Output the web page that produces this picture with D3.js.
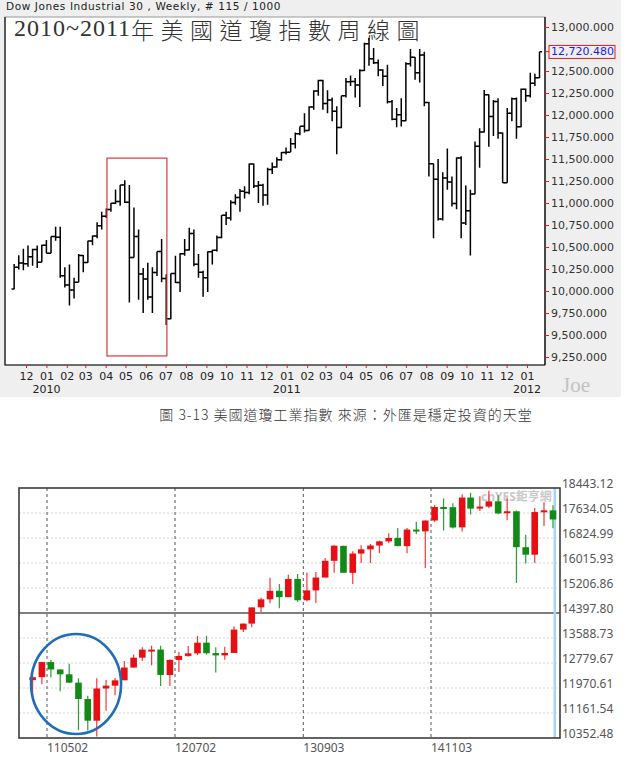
<!DOCTYPE html>
<html>
<head>
<meta charset="utf-8">
<script src="https://cdn.jsdelivr.net/npm/d3@7"></script>
<style>
  body { margin: 0; background: #fff; }
  svg { display: block; }
</style>
</head>
<body>
<svg width="628" height="759"></svg>
<script>

  // DATA - top chart: Dow Jones weekly bars, week ending 2009-11-13 .. 2012-01-20

  var firstWeek = new Date(2009, 10, 13),
    lastWeek = new Date(2012, 0, 20);

  var weekOpen = [
    10023, 10270, 10318, 10309, 10388, 10471, 10328, 10520,
    10430, 10618, 10610, 10172, 10067, 10012, 10099, 10402, 10325, 10567, 10625, 10742, 10850,
    10927, 10997, 11018, 11204, 11009, 10380, 10620, 10193, 10137, 9931, 10211, 10450, 10143,
    9686, 10198, 10097, 10424, 10466, 10653, 10303, 10213, 10150, 10447, 10462, 10607, 10860,
    10829, 11006, 11062, 11133, 11118, 11444, 11192, 11203, 11092, 11382, 11410, 11491, 11573,
    11577, 11674, 11787, 11871, 11823, 12092, 12273, 12391, 12130, 12170, 12044, 11858, 12220,
    12377, 12380, 12342, 12505, 12810, 12638, 12595, 12512, 12441, 12151, 11952, 12004, 11934,
    12582, 12657, 12479, 12681, 12143, 11445, 11270, 10818, 11285, 11240, 10993, 11510, 10772,
    10913, 11103, 11644, 11808, 12230, 11983, 12153, 11796, 11231, 12019, 12184, 11866, 12294,
    12218, 12360, 12422
  ];
  var weekHigh = [
    10306, 10406, 10480, 10516, 10480, 10517, 10526, 10580,
    10618, 10730, 10729, 10270, 10300, 10150, 10420, 10410, 10570, 10630, 10780, 10900, 10940,
    11000, 11154, 11205, 11258, 11205, 10950, 10700, 10260, 10320, 10270, 10450, 10590, 10190,
    10200, 10400, 10430, 10590, 10720, 10700, 10420, 10230, 10450, 10470, 10630, 10860, 10900,
    11030, 11100, 11160, 11190, 11450, 11450, 11250, 11220, 11400, 11460, 11520, 11580, 11630,
    11740, 11800, 11870, 12020, 12100, 12280, 12400, 12400, 12280, 12200, 12100, 12220, 12420,
    12450, 12420, 12520, 12820, 12876, 12760, 12630, 12520, 12570, 12170, 12080, 12190, 12600,
    12750, 12660, 12750, 12720, 12150, 11450, 11500, 11350, 11620, 11300, 11520, 11530, 11200,
    11150, 11700, 11850, 12284, 12232, 12170, 12190, 11800, 12080, 12200, 12200, 12300, 12300,
    12480, 12470, 12720
  ];
  var weekLow = [
    10021, 10245, 10236, 10276, 10286, 10260, 10328, 10428,
    10430, 10570, 10150, 10040, 9835, 9914, 10099, 10214, 10320, 10520, 10600, 10700, 10830,
    10900, 10990, 10970, 11000, 9870, 10380, 9900, 9750, 9900, 9750, 10170, 10100, 9614,
    9680, 10090, 9990, 10400, 10460, 10280, 10150, 9936, 9990, 10300, 10450, 10600, 10750,
    10800, 10980, 10900, 11050, 11100, 11170, 11000, 10970, 10980, 11330, 11400, 11480, 11550,
    11580, 11620, 11770, 11800, 11820, 12060, 12220, 12060, 12020, 11930, 11555, 11850, 12200,
    12330, 12200, 12090, 12500, 12560, 12580, 12440, 12330, 12130, 11940, 11860, 11870, 11930,
    12550, 12400, 12370, 12100, 11300, 10600, 10800, 10800, 11150, 10960, 10930, 10600, 10750,
    10404, 11100, 11400, 11800, 11640, 11760, 11730, 11231, 11231, 11930, 11730, 11860, 12150,
    12200, 12330, 12420
  ];
  var weekClose = [
    10270, 10318, 10309, 10388, 10471, 10328, 10520, 10428,
    10618, 10610, 10172, 10067, 10012, 10099, 10402, 10325, 10567, 10625, 10742, 10850, 10927,
    10997, 11018, 11204, 11009, 10380, 10620, 10193, 10137, 9931, 10211, 10450, 10143, 9686,
    10198, 10097, 10424, 10466, 10653, 10303, 10213, 10150, 10447, 10462, 10607, 10860, 10829,
    11006, 11062, 11133, 11118, 11444, 11192, 11203, 11092, 11382, 11410, 11491, 11573, 11577,
    11674, 11787, 11871, 11823, 12092, 12273, 12391, 12130, 12170, 12044, 11858, 12220, 12377,
    12380, 12342, 12505, 12810, 12638, 12595, 12512, 12441, 12151, 11952, 12004, 11934, 12582,
    12657, 12479, 12681, 12143, 11445, 11270, 10818, 11285, 11240, 10993, 11510, 10772, 10913,
    11103, 11644, 11808, 12231, 11983, 12153, 11796, 11231, 12019, 12184, 11866, 12294, 12218,
    12360, 12422, 12720
  ];

  var topTicks = [9250, 9500, 9750, 10000, 10250, 10500, 10750, 11000, 11250, 11500,
    11750, 12000, 12250, 12500, 13000];
  var lastPrice = 12720.48;
  var yearLabels = ["2010", "2011", "2012"];
  var boxFrom = new Date(2010, 3, 3), boxTo = new Date(2010, 6, 3),
    boxHigh = 11510, boxLow = 9262;

  // DATA - bottom chart: monthly candles 2011-03 .. 2015-12

  var firstMonth = new Date(2011, 2, 1), endMonth = new Date(2016, 0, 1);

  var monOpen = [
    12226, 12321, 12810, 12570, 12414, 12144, 11614, 10913, 11955, 12046,
    12221, 12632, 12952, 13213, 13214, 12391, 12879, 13009, 13090, 13437, 13099, 13027,
    13104, 13861, 14054, 14580, 14840, 15115, 14911, 15500, 14810, 15130, 15545, 16086,
    16572, 15698, 16321, 16458, 16581, 16716, 16828, 16561, 17098, 17041, 17390, 17828,
    17823, 17169, 18135, 17777, 17842, 18012, 17638, 17690, 16528, 16285, 17664, 17719
  ];
  var monHigh = [
    12419, 12811, 12876, 12570, 12753, 12284, 11717, 12284, 12227, 12294,
    12842, 13055, 13290, 13338, 13339, 12898, 13137, 13331, 13653, 13662, 13290, 13307,
    13969, 14055, 14585, 14888, 15542, 15340, 15634, 15659, 15709, 15721, 16174, 16589,
    16573, 16398, 16588, 16632, 16736, 16978, 17152, 17151, 17351, 17395, 17895, 18103,
    17951, 18244, 18288, 18175, 18351, 18207, 18137, 17712, 16933, 17799, 17978, 17888
  ];
  var monLow = [
    11555, 12093, 12309, 11863, 12133, 10604, 10597, 10404, 11231, 11735,
    12221, 12630, 12844, 12710, 12035, 12035, 12492, 12978, 13036, 13053, 12471, 12884,
    13104, 13784, 13937, 14434, 14712, 14551, 14911, 14760, 14777, 14719, 15545, 15703,
    15699, 15340, 16019, 16015, 16335, 16659, 16562, 16333, 16943, 15855, 17350, 17067,
    17136, 17037, 17585, 17699, 17788, 17597, 17399, 15370, 16001, 16013, 17210, 17139
  ];
  var monClose = [
    12320, 12811, 12570, 12414, 12144, 11614, 10913, 11955, 12046, 12218,
    12633, 12952, 13212, 13214, 12393, 12880, 13009, 13091, 13437, 13096, 13026, 13104,
    13861, 14054, 14579, 14840, 15116, 14910, 15500, 14810, 15130, 15546, 16086, 16577,
    15699, 16322, 16458, 16581, 16717, 16827, 16563, 17098, 17043, 17391, 17828, 17823,
    17165, 18133, 17776, 17841, 18011, 17620, 17690, 16528, 16285, 17664, 17720, 17425
  ];

  var bottomTicks = [10352.48, 11161.54, 11970.61, 12779.67, 13588.73, 14397.80,
    15206.86, 16015.93, 16824.99, 17634.05, 18443.12];
  var strongLine = 14397.80;
  var dateLines = ["2011-05-02", "2012-07-02", "2013-09-03", "2014-11-03"];
  var cursorDate = new Date(2015, 11, 21);
  var ringDate = new Date(2011, 7, 7), ringValue = 12100;

  // SETUP

  var svg = d3.select("svg");
  var parseDay = d3.timeParse("%Y-%m-%d");

  var weeks = d3.timeFriday.range(firstWeek, d3.timeDay.offset(lastWeek, 1));
  var bars = weeks.map(function (d, i) {
    return { date: d, o: weekOpen[i], h: weekHigh[i], l: weekLow[i], c: weekClose[i] };
  });

  var months = d3.timeMonth.range(firstMonth, endMonth);
  var candles = months.map(function (d, i) {
    return { date: d3.timeDay.offset(d, 14), o: monOpen[i], h: monHigh[i], l: monLow[i], c: monClose[i] };
  });

  // TOP CHART

  var plot = { left: 5, right: 545, top: 17, bottom: 365 };

  var x = d3.scaleTime()
    .domain([new Date(2009, 11, 1), new Date(2012, 0, 1)])
    .range([26, 527]);
  var y = d3.scaleLinear()
    .domain([9250, 13000])
    .range([357, 27]);

  svg.append("rect")
    .attr("x", 0).attr("y", 0)
    .attr("width", 621).attr("height", 397)
    .attr("fill", "#efefef");

  svg.append("text")
    .attr("x", 6).attr("y", 10)
    .attr("font-family", "DejaVu Sans")
    .attr("font-size", 10.5)
    .attr("letter-spacing", 0.6)
    .attr("fill", "#222")
    .text("Dow Jones Industrial 30 , Weekly, # 115 / 1000");

  svg.append("rect")
    .attr("x", plot.left).attr("y", plot.top)
    .attr("width", plot.right - plot.left).attr("height", plot.bottom - plot.top)
    .attr("fill", "#fff")
    .attr("stroke", "#9a9a9a");

  svg.append("path")
    .attr("d", "M" + plot.left + "," + plot.top + "V" + plot.bottom + "H" + plot.right)
    .attr("fill", "none")
    .attr("stroke", "#111")
    .attr("stroke-width", 1.2);

  var title = svg.append("text")
    .attr("x", 14).attr("y", 39)
    .attr("fill", "#333");
  title.append("tspan")
    .attr("dy", -3)
    .attr("font-family", "Liberation Serif, DejaVu Serif, serif")
    .attr("font-size", 24)
    .attr("letter-spacing", 1)
    .text("2010~2011");
  title.append("tspan")
    .attr("dy", 3)
    .attr("font-family", "Noto Sans CJK TC")
    .attr("font-size", 23)
    .attr("font-weight", 300)
    .attr("letter-spacing", 6.5)
    .text("年美國道瓊指數周線圖");

  var gBars = svg.append("g")
    .attr("stroke", "#000")
    .attr("stroke-width", 1.5)
    .attr("fill", "none");

  gBars.selectAll("path")
    .data(bars)
    .enter().append("path")
    .attr("d", function (d) {
      var cx = x(d.date);
      return "M" + cx + "," + y(d.h) + "V" + y(d.l) +
        "M" + (cx - 2.6) + "," + y(d.o) + "H" + cx +
        "M" + cx + "," + y(d.c) + "H" + (cx + 2.6);
    });

  svg.append("rect")
    .attr("x", x(boxFrom)).attr("y", y(boxHigh))
    .attr("width", x(boxTo) - x(boxFrom))
    .attr("height", y(boxLow) - y(boxHigh))
    .attr("fill", "none")
    .attr("stroke", "#d8383a")
    .attr("stroke-width", 1.2);

  var yAxis = svg.append("g")
    .attr("transform", "translate(" + plot.right + ",0)")
    .call(d3.axisRight(y).tickValues(topTicks).tickSize(4).tickPadding(2)
      .tickFormat(d3.format(",.3f")));
  yAxis.select(".domain")
    .attr("d", "M0," + plot.top + "V" + plot.bottom)
    .attr("stroke", "#111")
    .attr("stroke-width", 1.4);
  yAxis.selectAll(".tick line").attr("stroke", "#e02020");
  yAxis.selectAll(".tick text")
    .attr("font-family", "DejaVu Sans")
    .attr("font-size", 11)
    .attr("fill", "#333");

  var priceText = svg.append("text")
    .attr("x", plot.right + 6).attr("y", y(lastPrice))
    .attr("dy", "0.35em")
    .attr("font-family", "DejaVu Sans")
    .attr("font-size", 11)
    .attr("fill", "#1a1af0")
    .text(d3.format(",.3f")(lastPrice));
  var pb = priceText.node().getBBox();
  svg.append("rect")
    .attr("x", pb.x - 2).attr("y", pb.y)
    .attr("width", pb.width + 3).attr("height", pb.height)
    .attr("fill", "none")
    .attr("stroke", "#e02020");
  svg.append("line")
    .attr("x1", plot.right).attr("x2", plot.right + 4)
    .attr("y1", y(lastPrice)).attr("y2", y(lastPrice))
    .attr("stroke", "#e02020");

  var xAxis = svg.append("g")
    .attr("transform", "translate(0," + plot.bottom + ")")
    .call(d3.axisBottom(x)
      .tickValues(d3.timeMonth.range(new Date(2009, 11, 1), new Date(2012, 0, 2)))
      .tickSize(3).tickPadding(4)
      .tickFormat(d3.timeFormat("%m")));
  xAxis.select(".domain").remove();
  xAxis.selectAll(".tick line").attr("stroke", "#e02020");
  xAxis.selectAll(".tick text")
    .attr("font-family", "DejaVu Sans")
    .attr("font-size", 11)
    .attr("fill", "#222");

  svg.append("g").selectAll("text")
    .data(yearLabels)
    .enter().append("text")
    .attr("x", function (d) { return x(new Date(+d, 0, 1)); })
    .attr("y", 393)
    .attr("text-anchor", "middle")
    .attr("font-family", "DejaVu Sans")
    .attr("font-size", 11)
    .attr("fill", "#222")
    .text(function (d) { return d; });

  svg.append("text")
    .attr("x", 562).attr("y", 392)
    .attr("font-family", "Liberation Serif, serif")
    .attr("font-size", 21)
    .attr("fill", "#c2c2c2")
    .text("Joe");

  // CAPTION

  svg.append("text")
    .attr("x", 346).attr("y", 420)
    .attr("text-anchor", "middle")
    .attr("font-family", "Noto Sans CJK TC")
    .attr("font-size", 14)
    .attr("font-weight", 300)
    .attr("letter-spacing", 1)
    .attr("fill", "#333")
    .text("圖 3-13 美國道瓊工業指數 來源：外匯是穩定投資的天堂");

  // BOTTOM CHART

  var frame = { left: 19, right: 560, top: 488, bottom: 738 };

  var xb = d3.scaleTime()
    .domain([parseDay(dateLines[0]), parseDay(dateLines[3])])
    .range([47, 431]);
  var yb = d3.scaleLinear()
    .domain([bottomTicks[0], bottomTicks[bottomTicks.length - 1]])
    .range([frame.bottom, frame.top]);

  svg.append("rect")
    .attr("x", frame.left).attr("y", frame.top)
    .attr("width", frame.right - frame.left).attr("height", frame.bottom - frame.top)
    .attr("fill", "#fff");

  svg.append("g").selectAll("line")
    .data(bottomTicks.slice(1, -1))
    .enter().append("line")
    .attr("x1", frame.left).attr("x2", frame.right)
    .attr("y1", function (d) { return yb(d); })
    .attr("y2", function (d) { return yb(d); })
    .attr("stroke", function (d) { return d === strongLine ? "#555" : "#d4d4d4"; })
    .attr("stroke-width", function (d) { return d === strongLine ? 1.3 : 1; })
    .attr("stroke-dasharray", function (d) { return d === strongLine ? null : "2,2"; });

  svg.append("g").selectAll("line")
    .data(dateLines)
    .enter().append("line")
    .attr("x1", function (d) { return xb(parseDay(d)); })
    .attr("x2", function (d) { return xb(parseDay(d)); })
    .attr("y1", frame.top).attr("y2", frame.bottom)
    .attr("stroke", "#555")
    .attr("stroke-dasharray", "3,3");

  svg.append("text")
    .attr("x", 481).attr("y", 501)
    .attr("font-family", "Noto Sans, Noto Sans CJK TC")
    .attr("font-size", 12)
    .attr("font-weight", "bold")
    .attr("fill", "#c8c8c8")
    .text("cnYES鉅亨網");

  svg.append("line")
    .attr("x1", xb(cursorDate)).attr("x2", xb(cursorDate))
    .attr("y1", frame.top).attr("y2", frame.bottom)
    .attr("stroke", "#a9d5f2")
    .attr("stroke-width", 2.5);

  var gC = svg.append("g");
  var cand = gC.selectAll("g")
    .data(candles)
    .enter().append("g")
    .attr("fill", function (d) { return d.c >= d.o ? "#e60f14" : "#128a17"; })
    .attr("stroke", function (d) { return d.c >= d.o ? "#ec3b3b" : "#2f9a34"; });
  cand.append("line")
    .attr("x1", function (d) { return xb(d.date); })
    .attr("x2", function (d) { return xb(d.date); })
    .attr("y1", function (d) { return yb(d.h); })
    .attr("y2", function (d) { return yb(d.l); })
    .attr("stroke-width", 1.2);
  cand.append("rect")
    .attr("x", function (d) { return xb(d.date) - 3.3; })
    .attr("width", 6.6)
    .attr("y", function (d) { return yb(Math.max(d.o, d.c)); })
    .attr("height", function (d) { return Math.max(2, Math.abs(yb(d.o) - yb(d.c))); })
    .attr("stroke", "none");

  svg.append("rect")
    .attr("x", frame.left).attr("y", frame.top)
    .attr("width", frame.right - frame.left).attr("height", frame.bottom - frame.top)
    .attr("fill", "none")
    .attr("stroke", "#3c3c3c")
    .attr("stroke-width", 1.6);

  svg.append("g").selectAll("text")
    .data(bottomTicks)
    .enter().append("text")
    .attr("x", frame.right + 2)
    .attr("y", function (d) { return yb(d) - 4; })
    .attr("dy", "0.35em")
    .attr("font-family", "Noto Sans")
    .attr("font-size", 12)
    .attr("fill", "#555")
    .text(function (d) { return d.toFixed(2); });

  svg.append("g").selectAll("text")
    .data(dateLines)
    .enter().append("text")
    .attr("x", function (d) { return xb(parseDay(d)); })
    .attr("y", 752)
    .attr("font-family", "Noto Sans")
    .attr("font-size", 12)
    .attr("fill", "#555")
    .text(function (d) { return d3.timeFormat("%y%m%d")(parseDay(d)); });

  svg.append("ellipse")
    .attr("cx", xb(ringDate)).attr("cy", yb(ringValue))
    .attr("rx", 45).attr("ry", 50)
    .attr("fill", "none")
    .attr("stroke", "#1f6db6")
    .attr("stroke-width", 2.6);

</script>
</body>
</html>
